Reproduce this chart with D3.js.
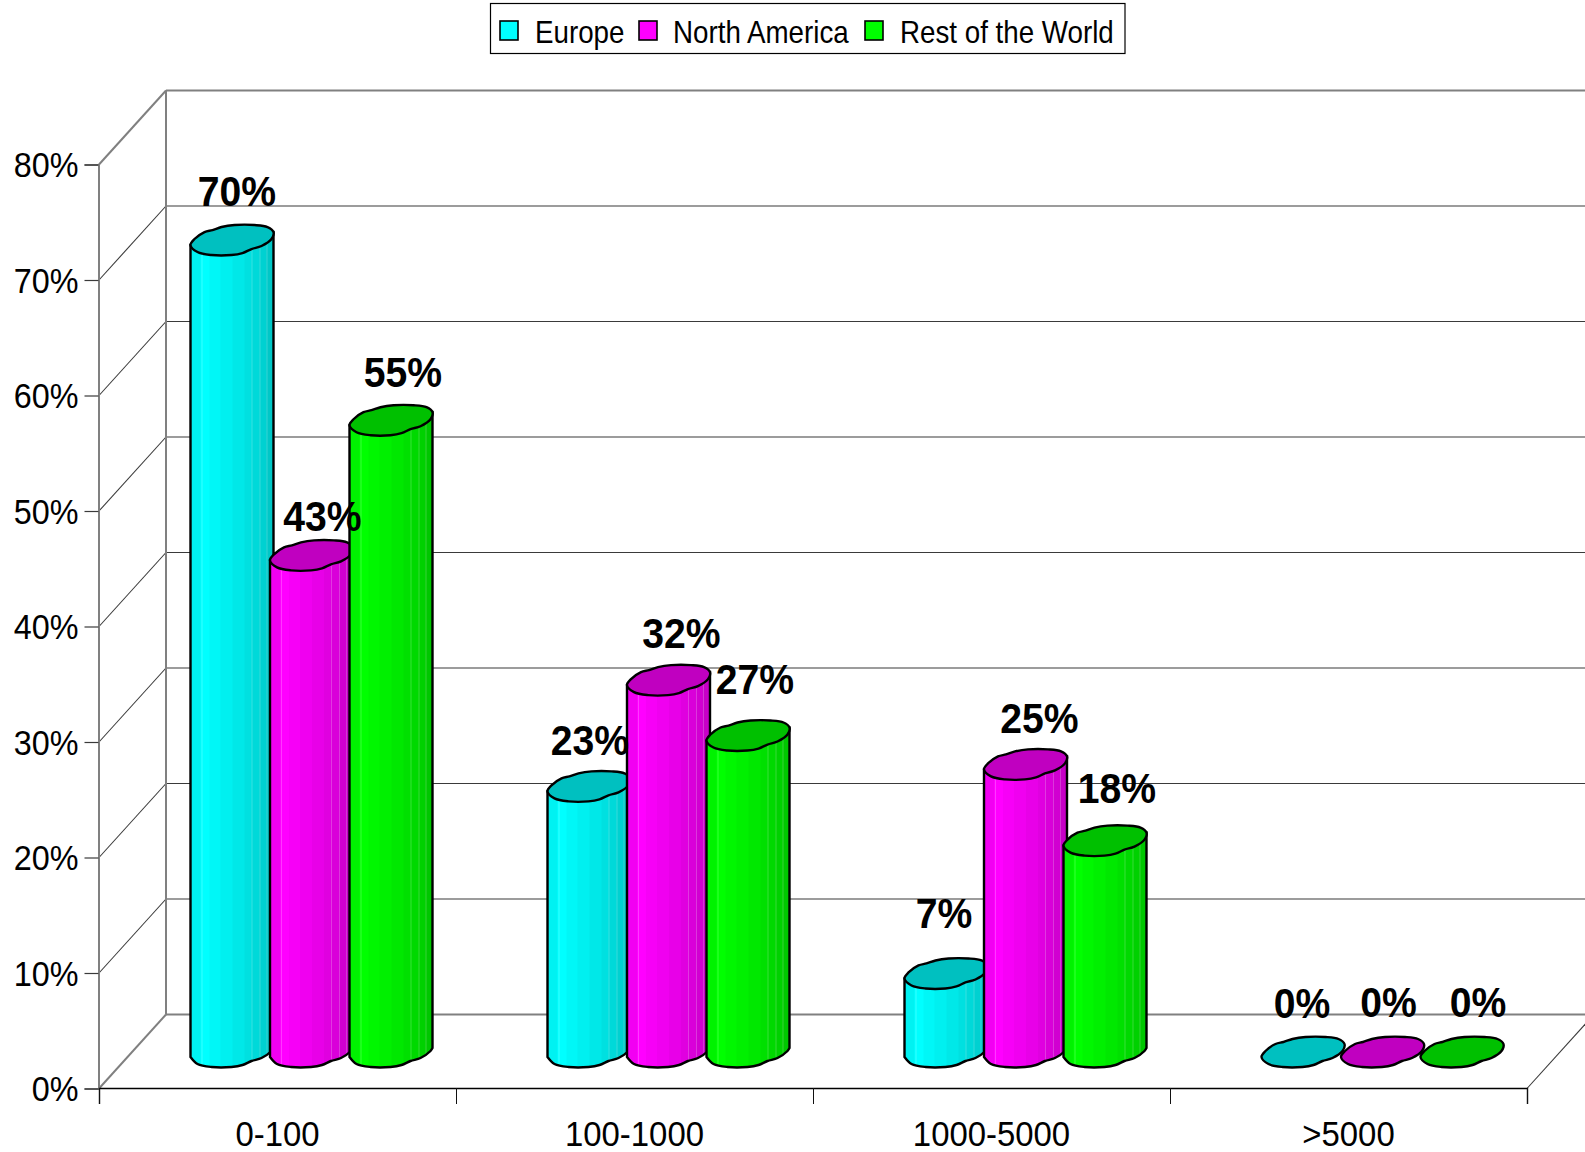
<!DOCTYPE html>
<html><head><meta charset="utf-8">
<script src="https://cdn.jsdelivr.net/npm/d3@7"></script>
<style>html,body{margin:0;padding:0;background:#fff}svg{display:block}text{font-family:"Liberation Sans",Arial,sans-serif;fill:#000}</style>
</head><body><div id="c"></div>
<script>
const categories = ["0-100","100-1000","1000-5000",">5000"];
const seriesNames = ["Europe","North America","Rest of the World"];
const europe = [70.3,23,6.8,0];
const northAmerica = [43,32.2,24.9,0];
const restOfWorld = [54.7,27.4,18.3,0];
const yTicks = [0,10,20,30,40,50,60,70,80];
const seriesColors = [[0,255,255],[255,0,255],[0,255,0]];
// nudges of each value label from its default place, [dx,dy] per category per series
const labelNudge = [
  [[6,-2.5],[12,8],[13,-1.5]],
  [[2,1],[14,0],[8,-9.5]],
  [[-1,-13],[15,1],[13,-5.5]],
  [[0,-2],[7,-3],[17,-3]]
];
const W=1585,H=1152;
const depthX=67, depthY=-74, barDepthY=-21.5, barW=83, pitch=79.5;
const svg=d3.select("#c").append("svg").attr("width",W).attr("height",H).attr("viewBox",`0 0 ${W} ${H}`);
const y=d3.scaleLinear().domain([0,80]).range([1088.5,164.5]);
const xCat=d3.scaleBand().domain(categories).range([99,1527]);
const xTick=d3.scaleLinear().domain([0,4]).range([99,1527]);
const xSeries=d3.scaleOrdinal().domain(seriesNames).range([0,1,2].map(i=>91.5+i*pitch));
const values=[europe,northAmerica,restOfWorld];
const GREY="#808080",DARK="#3a3a3a";

// walls
const wall=svg.append("g");
yTicks.forEach(v=>{
  const edge=v===0||v===80;
  wall.append("line").attr("x1",xTick(0)+depthX).attr("x2",W+20).attr("y1",y(v)+depthY).attr("y2",y(v)+depthY)
    .attr("stroke",edge?GREY:DARK).attr("stroke-width",edge?2:1.2);
  wall.append("line").attr("x1",xTick(0)).attr("x2",xTick(0)+depthX).attr("y1",y(v)).attr("y2",y(v)+depthY)
    .attr("stroke",edge?GREY:DARK).attr("stroke-width",edge?2:1.1);
});
wall.append("line").attr("x1",xTick(0)+depthX).attr("x2",xTick(0)+depthX).attr("y1",y(80)+depthY).attr("y2",y(0)+depthY).attr("stroke",GREY).attr("stroke-width",2);
wall.append("line").attr("x1",xTick(4)).attr("x2",xTick(4)+depthX).attr("y1",y(0)).attr("y2",y(0)+depthY).attr("stroke",DARK).attr("stroke-width",1.1);

// axes
const axL=svg.append("g").attr("transform",`translate(${xTick(0)-0.5},0)`)
  .call(d3.axisLeft(y).tickValues(yTicks).tickFormat(d=>d+"%").tickSize(14));
axL.select(".domain").attr("stroke",GREY).attr("stroke-width",2);
axL.selectAll(".tick line").attr("stroke",DARK).attr("stroke-width",1.2);
axL.selectAll(".tick text").attr("x",0).attr("dy",null).attr("y",0)
  .attr("transform","translate(-20,12) scale(0.925,1)").style("font-size","35px").attr("text-anchor","end");
const axB=svg.append("g").attr("transform",`translate(0,${y(0)-0.5})`)
  .call(d3.axisBottom(xTick).tickValues([0,1,2,3,4]).tickFormat("").tickSize(16));
axB.select(".domain").attr("stroke","#000").attr("stroke-width",1.4);
axB.selectAll(".tick line").attr("stroke","#111").attr("stroke-width",1);
const axC=svg.append("g").attr("transform",`translate(0,${y(0)})`)
  .call(d3.axisBottom(xCat).tickSize(0));
axC.select(".domain").remove();
axC.selectAll(".tick text").attr("y",0).attr("dy",null)
  .attr("transform","translate(0,57.5) scale(0.94,1)").style("font-size","35px").attr("text-anchor","middle");

// cylinder outline, measured from the bar's front-left foot
const frontProfile=[[0,-10],[7,-3],[21,0],[41,0],[52,-2],[61,-6],[71,-9],[81,-16],[83,-19]];
const capOutline=[[0,-10],[7,-3],[21,0],[41,0],[52,-2],[61,-6],[71,-9],[81,-16],[83,-23],[77,-28],[64,-30],[44,-30],[31,-28],[22,-25],[14,-23],[4,-16]];
const stripEdges=[0,10,19,30,42,54,61,69,76,83];
const stripShades=[0.95,1,0.97,0.94,0.91,0.88,0.85,0.82,0.78];
const seams=[11,61,69,76];
const smooth=d3.line().curve(d3.curveCatmullRom.alpha(0.5));
const closed=d3.line().curve(d3.curveCatmullRomClosed.alpha(0.5));
const defs=svg.append("defs");
const shade=(c,k)=>`rgb(${c.map(v=>Math.round(v*k)).join(",")})`;
const bars=svg.append("g");
const labels=svg.append("g");
categories.forEach((cat,ci)=>{
  seriesNames.forEach((s,si)=>{
    const v=values[si][ci], col=seriesColors[si];
    const x0=xCat(cat)+xSeries(s);
    const yb=y(0)+barDepthY, yt=y(v)+barDepthY;
    const g=bars.append("g");
    if(v>0){
      const front=frontProfile.map(p=>[x0+p[0],yb+p[1]]);
      const body=`M${x0},${yt-10}L${x0},${yb-10}`+smooth(front).replace(/^M[^C]*/,"")+`L${x0+barW},${yt-23}Z`;
      const id=`clip${ci}${si}`;
      defs.append("clipPath").attr("id",id).append("path").attr("d",body);
      const cg=g.append("g").attr("clip-path",`url(#${id})`);
      stripShades.forEach((k,i)=>{
        cg.append("rect").attr("x",x0+stripEdges[i]).attr("width",stripEdges[i+1]-stripEdges[i]+0.5)
          .attr("y",yt-40).attr("height",yb-yt+50).attr("fill",shade(col,k));
      });
      seams.forEach(e=>{
        cg.append("rect").attr("x",x0+e).attr("width",1).attr("y",yt-40).attr("height",yb-yt+50).attr("fill","#fff").attr("opacity",0.22);
      });
      g.append("path").attr("d",body).attr("fill","none").attr("stroke","#000").attr("stroke-width",2.4);
    }
    g.append("path").attr("d",closed(capOutline.map(p=>[x0+p[0],yt+p[1]])))
      .attr("fill",shade(col,0.753)).attr("stroke","#000").attr("stroke-width",2.4);
    const n=labelNudge[ci][si];
    labels.append("text").attr("text-anchor","middle")
      .attr("transform",`translate(${x0-1+barW/2+n[0]},${yt-47+n[1]}) scale(0.91,1)`)
      .style("font-size","43px").style("font-weight","bold").text(Math.round(v)+"%");
  });
});

// legend
const legend=svg.append("g");
legend.append("rect").attr("x",490.5).attr("y",3.5).attr("width",634.5).attr("height",50).attr("fill","#fff").attr("stroke","#000").attr("stroke-width",1.2);
const legendX=d3.scaleOrdinal().domain(seriesNames).range([500,639,865]);
seriesNames.forEach((s,i)=>{
  legend.append("rect").attr("x",legendX(s)).attr("y",21).attr("width",18).attr("height",19)
    .attr("fill",shade(seriesColors[i],1)).attr("stroke","#000").attr("stroke-width",1.6);
  legend.append("text").attr("transform",`translate(${legendX(s)+(i===1?34:35)},43) scale(0.895,1)`).style("font-size","31px").text(s);
});
</script></body></html>
